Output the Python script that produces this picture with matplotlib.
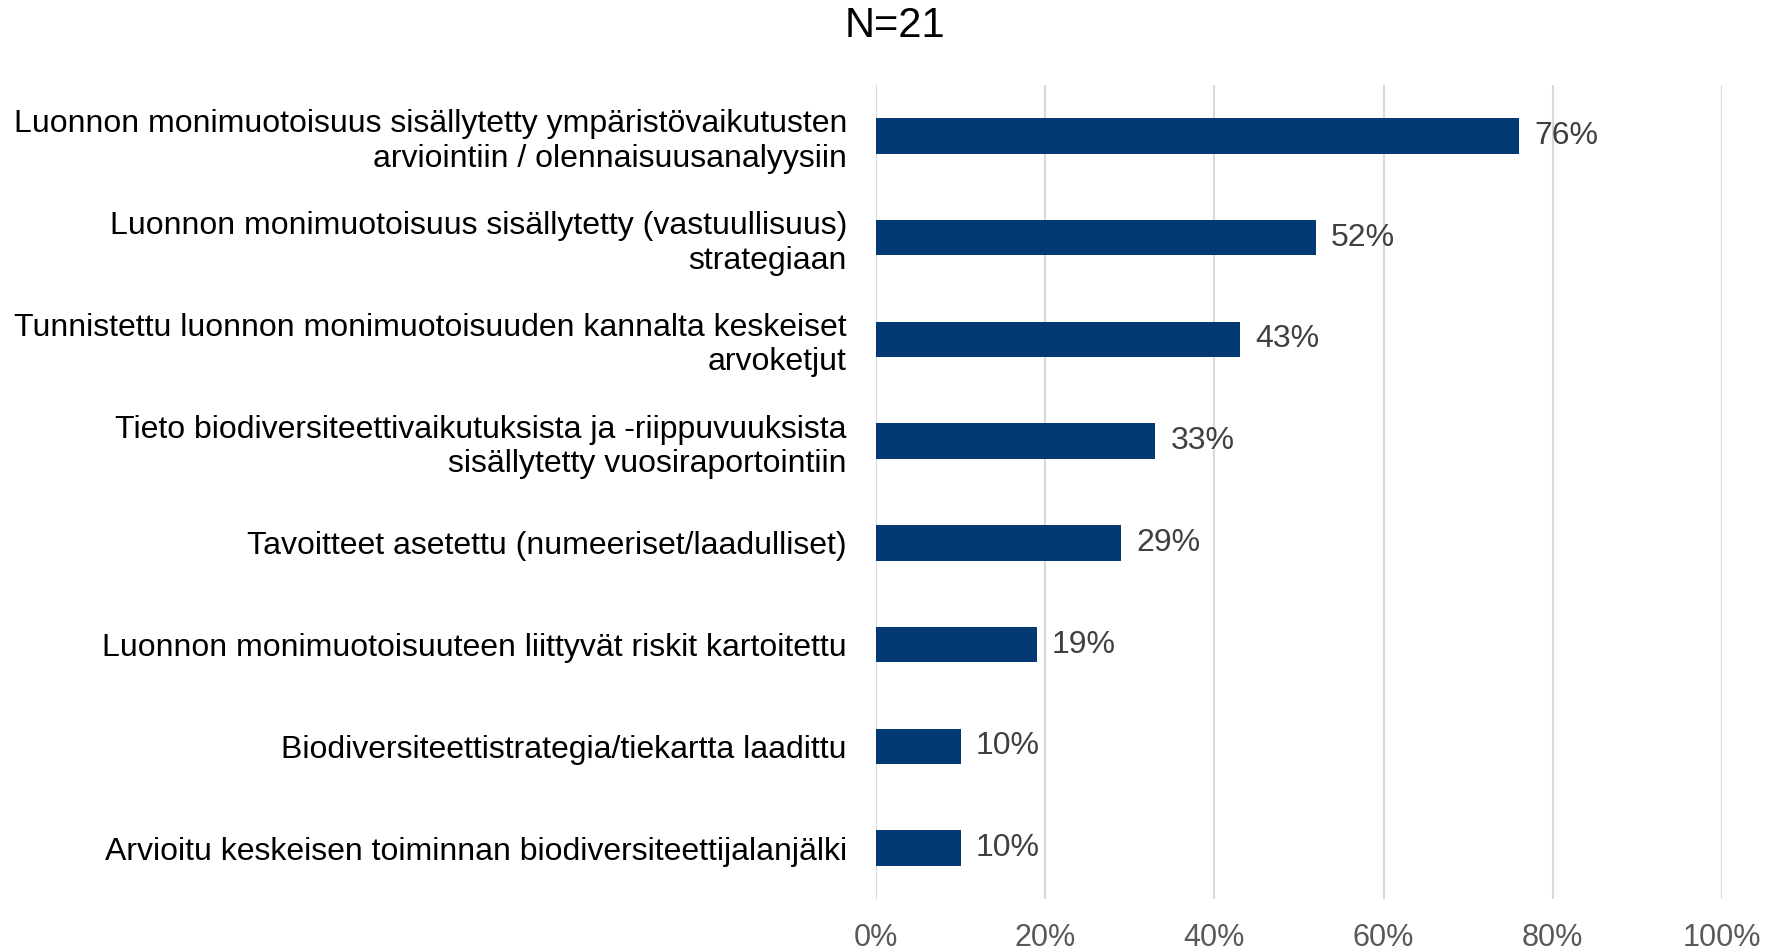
import matplotlib.pyplot as plt
from matplotlib.ticker import PercentFormatter

plt.rcParams['font.family'] = ['Liberation Sans', 'DejaVu Sans']

categories = [
    'Luonnon monimuotoisuus sisällytetty ympäristövaikutusten\narviointiin / olennaisuusanalyysiin',
    'Luonnon monimuotoisuus sisällytetty (vastuullisuus)\nstrategiaan',
    'Tunnistettu luonnon monimuotoisuuden kannalta keskeiset\narvoketjut',
    'Tieto biodiversiteettivaikutuksista ja -riippuvuuksista\nsisällytetty vuosiraportointiin',
    'Tavoitteet asetettu (numeeriset/laadulliset)',
    'Luonnon monimuotoisuuteen liittyvät riskit kartoitettu',
    'Biodiversiteettistrategia/tiekartta laadittu',
    'Arvioitu keskeisen toiminnan biodiversiteettijalanjälki',
]
values = [76, 52, 43, 33, 29, 19, 10, 10]
value_labels = ['76%', '52%', '43%', '33%', '29%', '19%', '10%', '10%']
x_ticks = [0, 20, 40, 60, 80, 100]

BAR_COLOR = '#043a74'

fig = plt.figure(figsize=(17.67, 9.52), dpi=100)
ax = fig.add_axes([0.4958, 0.0557, 0.4787, 0.855])

ypos = list(range(len(categories)))
bars = ax.barh(ypos, values, height=0.35, color=BAR_COLOR, zorder=3)
ax.set_ylim(len(categories) - 0.5, -0.5)
ax.set_xlim(0, 100)

for bar, lab in zip(bars, value_labels):
    ax.annotate(lab, (bar.get_width(), bar.get_y() + bar.get_height() / 2),
                xytext=(11, 0), textcoords='offset points',
                va='center', ha='left', fontsize=23, color='#404040')

ax.set_yticks(ypos)
ax.set_yticklabels(categories, fontsize=23, color='black', linespacing=1.2)
ax.set_xticks(x_ticks)
ax.xaxis.set_major_formatter(PercentFormatter(decimals=0))
ax.tick_params(axis='x', labelsize=22, labelcolor='#595959', length=0, pad=17)
ax.tick_params(axis='y', length=0, pad=21)

ax.grid(axis='x', color='#d9d9d9', linewidth=1.5, zorder=0)
for s in ax.spines.values():
    s.set_visible(False)

fig.text(0.5065, 0.973, 'N=21', ha='center', va='center', fontsize=30, color='black')

fig.savefig('out.png', dpi=100, facecolor='white')
